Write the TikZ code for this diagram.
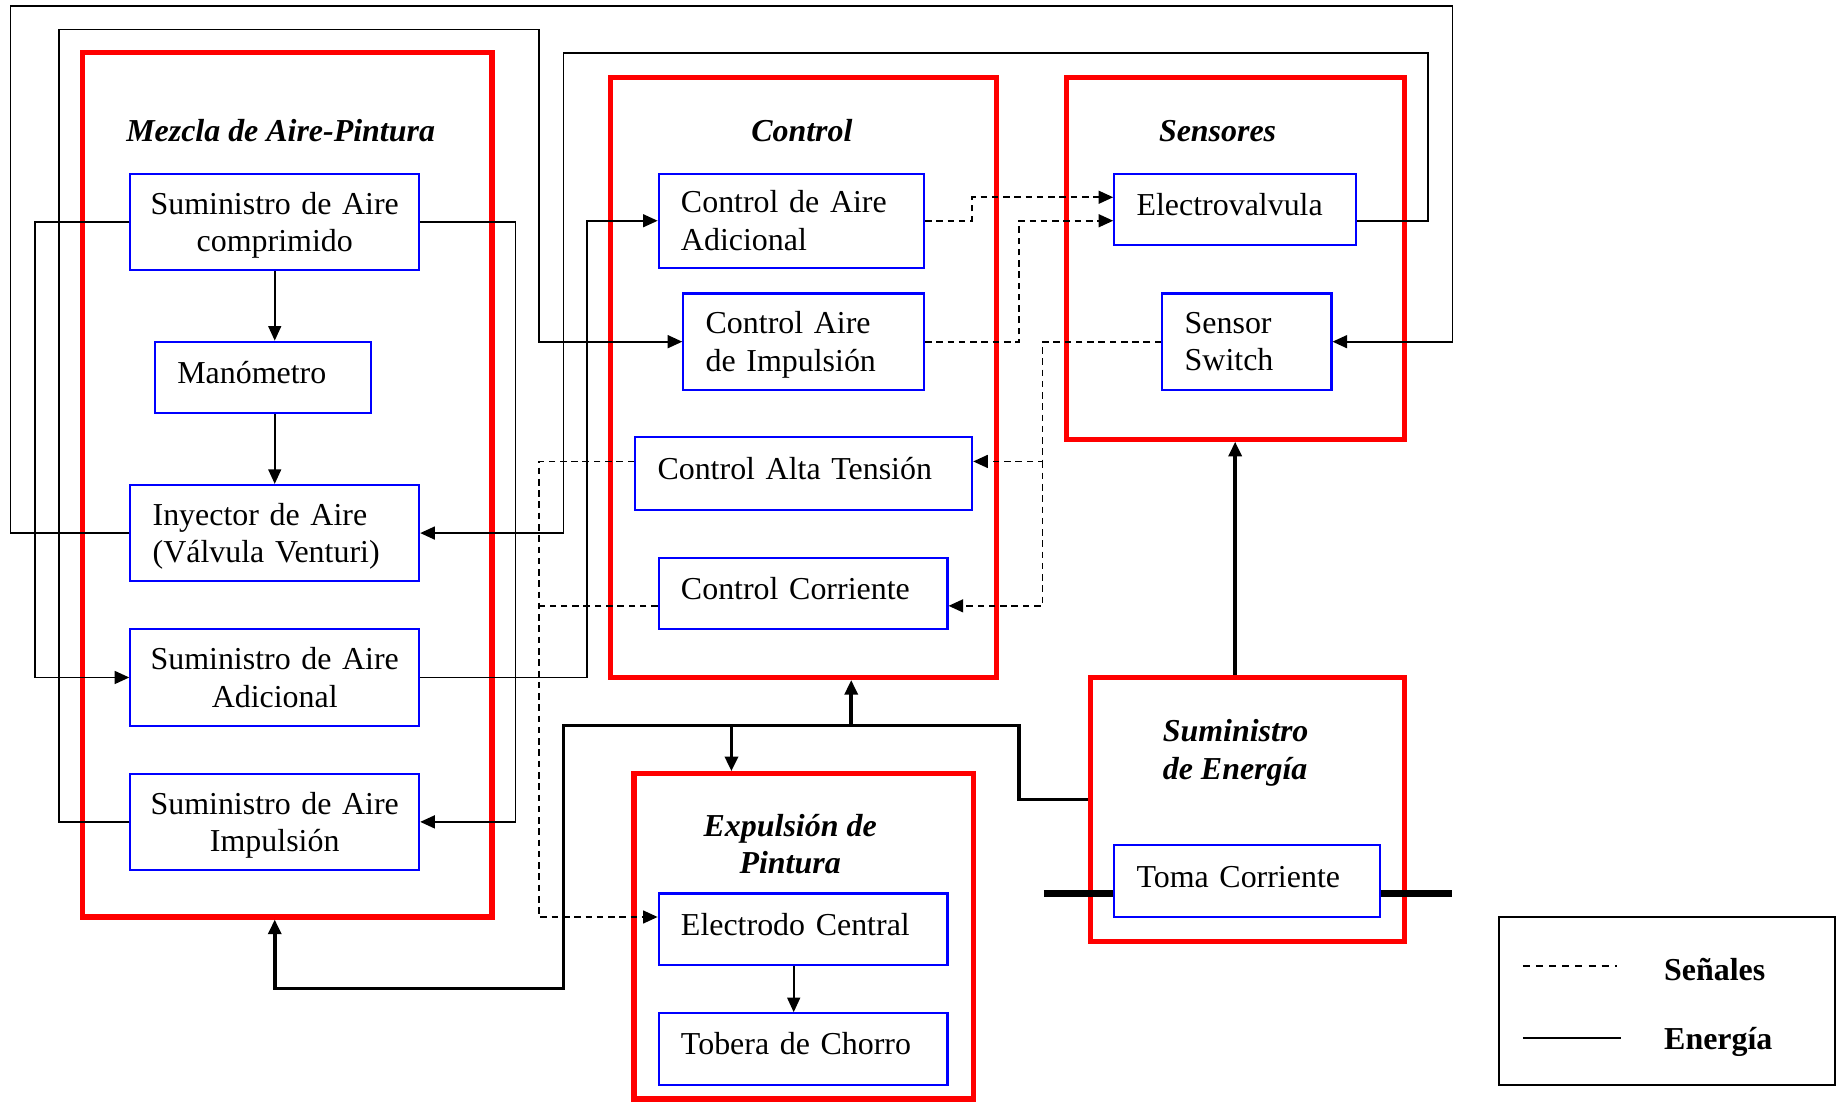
\documentclass[tikz,border=0pt]{standalone}
\usepackage{fontspec}
\setmainfont{Liberation Serif}
\usetikzlibrary{arrows.meta, positioning, calc}

\newcommand{\txt}{\fontsize{13.6}{16}\selectfont}

\tikzset{
  grupo/.style={draw=red, line width=2.2pt, rectangle, inner sep=0pt},
  bloque/.style={draw=blue, line width=0.9pt, rectangle, inner sep=0pt, font=\txt, align=center},
  bloqcen/.style={bloque, text width=123pt, minimum width=123pt, minimum height=41pt},
  bloqizq/.style={bloque, inner xsep=9.5pt, align=left},
  unalinea/.style={text height=9.5pt, text depth=4.5pt},
  doslineas/.style={text height=12.2pt},
  titulo/.style={font=\txt\bfseries\itshape, align=center},
  flecha/.style={-{Triangle[length=6.2pt,width=5.5pt]}},
  aire/.style={line width=0.7pt},
  senal/.style={line width=0.7pt, dash pattern=on 2.8pt off 2pt},
  potencia/.style={line width=1.5pt},
  barra/.style={line width=3.2pt}
}

\begin{document}
\begin{tikzpicture}[x=0.5pt, y=-0.5pt]
  \useasboundingbox (0,0) rectangle (1568,939);

  % Grupos (recuadros rojos)
  \foreach \n/\cx/\cy/\w/\h in {mez/244.5/413/174.5pt/368pt, ctl/684.5/321.5/164.5pt/255.5pt,
                                sen/1052/220/144pt/154pt, ene/1062.5/689.5/133.5pt/112.5pt,
                                exp/684.5/797.5/144.5pt/138.5pt}
    \node[grupo, minimum width=\w, minimum height=\h] (\n) at (\cx,\cy) {};

  % Titulos
  \node[titulo] (tmez) at (239,111) {Mezcla de Aire-Pintura};
  \node[titulo] (tctl) at (683,111) {Control};
  \node[titulo] (tsen) at (1037,112) {Sensores};
  \node[titulo, align=left, anchor=west, inner sep=0pt] (tene) at (990,641) {Suministro\\de Energía};
  \node[titulo] (texp) at (673,719) {Expulsión de\\Pintura};

  % Bloques de mezcla
  \node[bloqcen, doslineas] (sac) at (234,189) {Suministro de Aire\\comprimido};
  \node[bloqizq, unalinea, text width=73pt, minimum width=92pt, minimum height=30.5pt] (mano) at (224,321.5) {Manómetro};
  \node[bloqizq, doslineas, text width=104pt, minimum width=123pt, minimum height=41pt] (iny) at (234,454) {Inyector de Aire\\(Válvula Venturi)};
  \node[bloqcen] (saa) at (234,577) {Suministro de Aire\\Adicional};
  \node[bloqcen, doslineas] (sai) at (234,700) {Suministro de Aire\\Impulsión};

  % Bloques de control
  \node[bloqizq, text width=94pt, minimum width=113pt, minimum height=40pt] (cad) at (674,188) {Control de Aire\\Adicional};
  \node[bloqizq, doslineas, text width=83.5pt, minimum width=102.5pt, minimum height=41pt] (cai) at (684.5,291) {Control Aire\\de Impulsión};
  \node[bloqizq, unalinea, text width=124.5pt, minimum width=143.5pt, minimum height=31pt] (cat) at (684.5,403) {Control Alta Tensión};
  \node[bloqizq, unalinea, text width=104pt, minimum width=123pt, minimum height=30.5pt] (cco) at (684,505.5) {Control Corriente};

  % Sensores y energia
  \node[bloqizq, unalinea, text width=84pt, minimum width=103pt, minimum height=30.5pt] (ev) at (1052,178.5) {Electrovalvula};
  \node[bloqizq, text width=53pt, minimum width=72pt, minimum height=41pt] (ss) at (1062,291) {Sensor\\Switch};
  \node[bloqizq, unalinea, text width=94pt, minimum width=113pt, minimum height=30.5pt] (tc) at (1062,750.5) {Toma Corriente};

  % Expulsion
  \node[bloqizq, unalinea, text width=104pt, minimum width=123pt, minimum height=30.5pt] (ec) at (684,791.5) {Electrodo Central};
  \node[bloqizq, unalinea, text width=104pt, minimum width=123pt, minimum height=30.5pt] (tob) at (684,893.5) {Tobera de Chorro};

  % Puntos de quiebre
  \coordinate (b1) at (9,5);
  \coordinate (b2) at (1237,291);
  \coordinate (b3) at (50,25);
  \coordinate (b4) at (459,291);
  \coordinate (b5) at (1216,45);
  \coordinate (b6) at (480,454);
  \coordinate (b7) at (30,577);
  \coordinate (b8) at (439,700);
  \coordinate (b9) at (500,188);
  \coordinate (b10) at (828,168);
  \coordinate (b11) at (868,188);
  \coordinate (b12) at (888,393);
  \coordinate (b13) at (459,781);
  \coordinate (b14) at (459,516);
  \coordinate (b15) at (868,618);
  \coordinate (b16) at (480,842);
  \coordinate (b17) at (725,618);
  \coordinate (b18) at (623,618);
  \coordinate (b19) at (889,761);
  \coordinate (b20) at (1237,761);

  % Aire
  \draw[aire, flecha] (sac.south) -- (sac.south |- mano.north);
  \draw[aire, flecha] (iny.north |- mano.south) -- (iny.north);
  \draw[aire, flecha] (iny.west) -| (b1) -| (b2) -- (ss.east);
  \draw[aire, flecha] (sai.west) -| (b3) -| (b4) -- (cai.west);
  \draw[aire, flecha] ([yshift=-4.75pt]ev.east) -| (b5) -| (b6) -- (iny.east);
  \draw[aire, flecha] (sac.west) -| (b7) -- (saa.west);
  \draw[aire, flecha] (sac.east) -| (b8) -- (sai.east);
  \draw[aire, flecha] (saa.east) -| (b9) -- (cad.west);
  \draw[aire, flecha] ([xshift=-4pt]ec.south) -- ([xshift=-4pt]tob.north);

  % Senales
  \draw[senal, flecha] (cad.east) -| (b10) -- ([yshift=5.25pt]ev.west);
  \draw[senal, flecha] (cai.east) -| (b11) -- ([yshift=-4.75pt]ev.west);
  \draw[senal, flecha] (ss.west) -| (b12) -- ([yshift=5pt]cat.east);
  \draw[senal, flecha] (b12) |- ([yshift=-5.25pt]cco.east);
  \draw[senal, flecha] ([yshift=5pt]cat.west) -| (b13) -- ([yshift=5.25pt]ec.west);
  \draw[senal] ([yshift=-5.25pt]cco.west) -- (b14);

  % Energia
  \draw[potencia, flecha] ([yshift=4.25pt]ene.west) -| (b15) -| (b16) -| (sac.south |- mez.south);
  \draw[potencia, flecha] (b17) -- (b17 |- ctl.south);
  \draw[potencia, flecha] (b18) -- (b18 |- exp.north);
  \draw[potencia, flecha] (sen.south |- ene.north) -- (sen.south);
  \draw[barra] (b19) -- ([yshift=-5.25pt]tc.west);
  \draw[barra] ([yshift=-5.25pt]tc.east) -- (b20);

  % Leyenda
  \node[draw, line width=0.8pt, minimum width=143pt, minimum height=71.5pt] (ley) at (1420,852.5) {};
  \coordinate (ls1) at (1297,823);
  \coordinate (ls2) at (1377,823);
  \coordinate (le1) at (1297,884);
  \coordinate (le2) at (1381,884);
  \draw[line width=0.7pt, dash pattern=on 3pt off 2.6pt] (ls1) -- (ls2);
  \draw[line width=1pt] (le1) -- (le2);
  \node[font=\txt\bfseries, anchor=west, inner sep=0pt] (lsen) at (1417,826) {Señales};
  \node[font=\txt\bfseries, anchor=west, inner sep=0pt] (lene) at (1417,887) {Energía};
\end{tikzpicture}
\end{document}
